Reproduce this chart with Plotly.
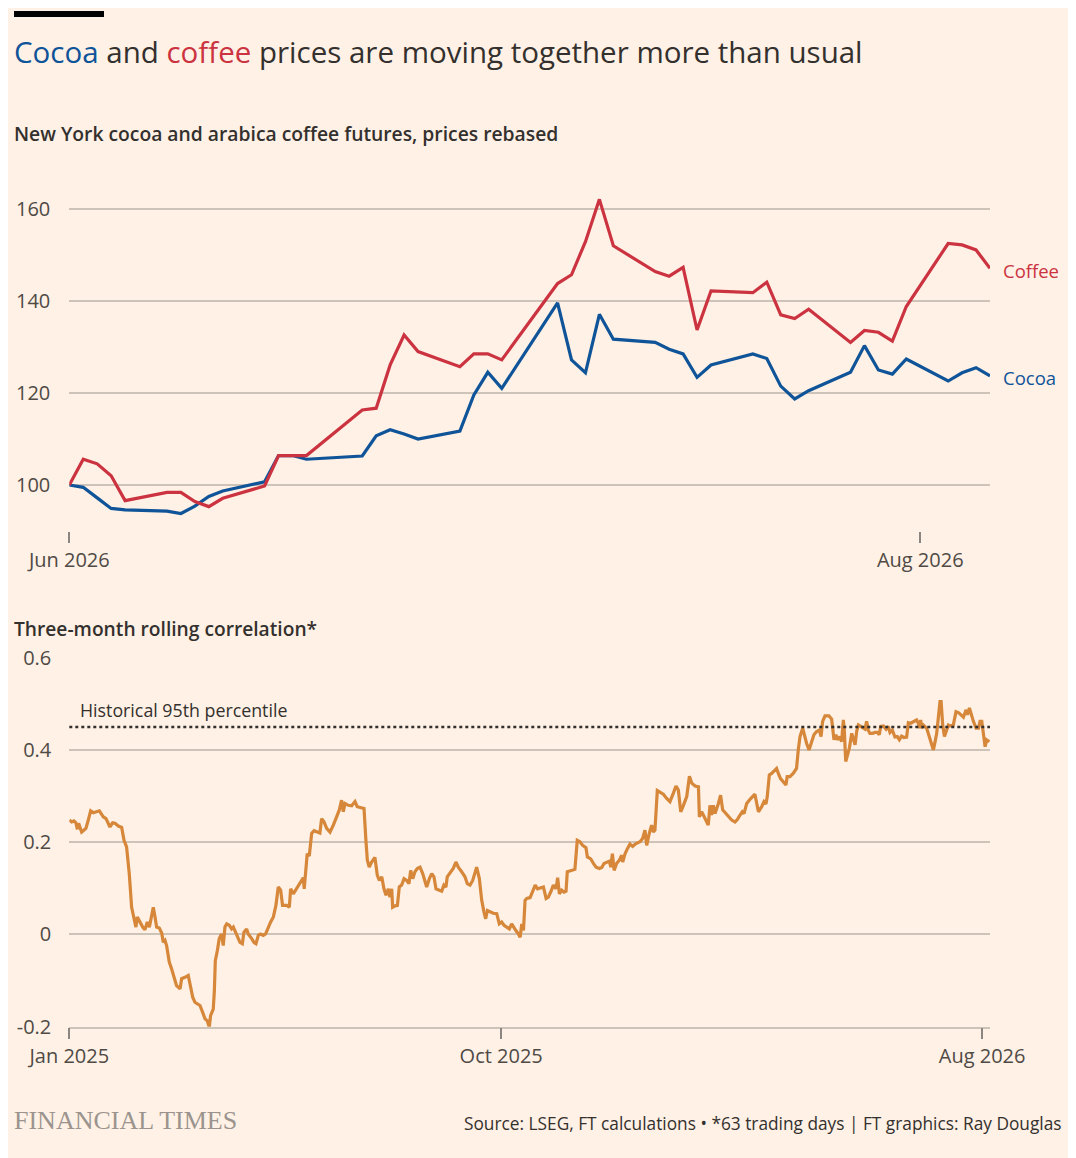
import pandas as pd
import plotly.graph_objects as go

W, H = 1076, 1158
PAGE_OFFSET = 8  # the browser's default body margin shifts the figure by this much

# Top panel: rebased futures prices (trading days, Jun-Aug 2026)
price_dates = [
    "2026-06-01", "2026-06-02", "2026-06-03", "2026-06-04", "2026-06-05",
    "2026-06-08", "2026-06-09", "2026-06-10", "2026-06-11", "2026-06-12",
    "2026-06-15", "2026-06-16", "2026-06-17", "2026-06-18",
    "2026-06-22", "2026-06-23", "2026-06-24", "2026-06-25", "2026-06-26",
    "2026-06-29", "2026-06-30", "2026-07-01", "2026-07-02",
    "2026-07-06", "2026-07-07", "2026-07-08", "2026-07-09", "2026-07-10",
    "2026-07-13", "2026-07-14", "2026-07-15", "2026-07-16", "2026-07-17",
    "2026-07-20", "2026-07-21", "2026-07-22", "2026-07-23", "2026-07-24",
    "2026-07-27", "2026-07-28", "2026-07-29", "2026-07-30", "2026-07-31",
    "2026-08-03", "2026-08-04", "2026-08-05", "2026-08-06",
]
coffee = [
    100.0, 105.6, 104.6, 102.0, 96.6,
    98.4, 98.4, 96.4, 95.3, 97.1,
    99.8, 106.4, 106.4, 106.4,
    116.3, 116.7, 126.1, 132.6, 129.0,
    125.7, 128.5, 128.5, 127.2,
    143.8, 145.7, 152.9, 162.1, 152.0,
    146.4, 145.4, 147.3, 133.7, 142.2,
    141.8, 144.1, 137.0, 136.2, 138.2,
    131.0, 133.6, 133.2, 131.3, 138.8,
    152.5, 152.2, 151.1, 147.1,
]
cocoa = [
    100.0, 99.5, 97.2, 94.9, 94.6,
    94.3, 93.8, 95.4, 97.5, 98.7,
    100.7, 106.4, 106.4, 105.6,
    106.3, 110.7, 112.0, 111.1, 110.0,
    111.7, 119.6, 124.5, 121.0,
    139.6, 127.2, 124.4, 137.1, 131.7,
    131.0, 129.5, 128.5, 123.4, 126.1,
    128.5, 127.5, 121.5, 118.7, 120.5,
    124.5, 130.3, 125.0, 124.1, 127.4,
    122.6, 124.4, 125.5, 123.7,
]

# Bottom panel: three-month rolling correlation, days since 1 Jan 2025
corr_start = "2025-01-01"
corr_days = [
    0, 1.5, 2.9, 4.2, 5.1, 5.9, 6.7, 7.8, 8.8, 10.5,
    12.0, 13.5, 15.2, 17.3, 19.0, 21.5, 23.2, 25.7, 27.4, 28.9,
    31.0, 33.1, 34.6, 36.2, 37.9, 39.4, 40.9, 42.1, 43.0, 44.7,
    46.4, 47.8, 49.3, 50.6, 52.0, 53.1, 54.2, 55.2, 56.9, 58.4,
    59.4, 60.5, 61.5, 63.2, 64.7, 66.2, 67.8, 70.0, 71.0, 73.1,
    75.2, 76.7, 78.0, 79.4, 80.9, 82.6, 84.3, 85.8, 87.2, 88.5,
    89.3, 91.0, 91.7, 92.3, 93.6, 94.8, 96.3, 97.3, 98.4, 99.5,
    101.1, 102.6, 103.7, 105.8, 107.9, 109.4, 110.4, 112.1, 113.1, 115.3,
    116.7, 118.0, 119.5, 120.9, 122.6, 124.1, 125.8, 127.3, 129.0, 130.6,
    132.1, 133.6, 134.8, 137.4, 139.1, 139.9, 141.6, 143.7, 145.8, 147.9,
    148.5, 149.6, 150.4, 151.7, 153.2, 154.7, 156.8, 158.4, 159.5, 161.0,
    162.7, 164.8, 166.9, 169.0, 170.7, 172.1, 173.2, 174.3, 176.4, 178.5,
    180.6, 182.0, 186.3, 187.5, 188.4, 189.6, 191.1, 193.2, 194.7, 196.0,
    197.5, 198.9, 200.2, 201.7, 202.7, 203.8, 204.4, 205.9, 207.4, 208.6,
    210.1, 211.6, 213.3, 214.7, 215.8, 217.1, 218.5, 220.0, 221.7, 223.4,
    224.8, 225.9, 227.6, 229.1, 230.5, 231.8, 233.9, 235.4, 236.8, 238.1,
    238.9, 240.6, 242.7, 244.4, 245.9, 248.0, 250.1, 251.6, 253.3, 255.0,
    256.4, 257.5, 259.2, 260.7, 262.1, 263.2, 264.3, 266.0, 268.0, 270.2,
    271.8, 273.3, 274.8, 276.5, 278.2, 279.6, 280.7, 282.2, 283.9, 285.0,
    286.0, 287.1, 288.1, 289.2, 291.3, 292.4, 293.4, 294.5, 296.0, 297.6,
    299.7, 301.4, 302.8, 304.3, 306.0, 307.7, 308.7, 309.8, 311.2, 312.7,
    314.0, 314.8, 316.5, 318.2, 319.6, 321.1, 322.8, 324.5, 326.6, 327.5,
    329.6, 331.3, 333.0, 335.1, 336.6, 338.0, 339.7, 341.4, 342.3, 343.3,
    344.4, 346.0, 347.7, 349.2, 349.8, 351.3, 352.8, 354.4, 356.1, 358.2,
    360.8, 362.4, 363.9, 365.0, 366.6, 368.1, 369.2, 370.2, 371.7, 373.4,
    375.5, 377.6, 379.7, 381.8, 383.5, 385.0, 386.5, 388.2, 390.3, 392.0,
    393.5, 395.6, 397.7, 398.3, 399.7, 400.8, 402.5, 403.9, 405.0, 406.0,
    407.1, 408.2, 410.3, 411.7, 413.0, 414.5, 416.6, 418.7, 420.8, 422.3,
    424.0, 425.4, 426.5, 428.2, 430.3, 432.0, 433.4, 435.6, 437.7, 439.1,
    440.4, 441.2, 442.5, 444.0, 445.4, 447.1, 448.2, 449.6, 451.3, 453.0,
    453.8, 455.5, 457.6, 459.7, 460.8, 461.9, 463.6, 465.0, 466.1, 467.6,
    469.3, 470.7, 472.4, 474.1, 475.2, 476.2, 477.7, 478.8, 480.2, 481.9,
    483.0, 483.4, 484.6, 485.5, 486.8, 488.2, 489.3, 489.9, 490.8, 491.8,
    493.1, 494.6, 495.6, 496.7, 497.7, 498.8, 500.3, 501.9, 503.0, 504.0,
    505.1, 506.1, 507.8, 509.3, 510.8, 512.0, 512.9, 514.6, 516.3, 517.7,
    518.8, 520.3, 521.9, 523.4, 524.7, 526.1, 527.6, 529.3, 530.4, 531.8,
    533.5, 534.6, 535.6, 536.7, 537.3, 538.2, 538.8, 539.9, 542.0, 543.6,
    545.1, 546.2, 547.3, 548.3, 549.4, 550.4, 551.1, 552.1, 553.2, 554.2,
    555.7, 556.8, 558.8, 560.5, 562.0, 563.7, 565.2, 566.9, 567.7, 569.0,
    570.5, 571.5, 573.2, 574.7, 575.7, 576.8, 577.8, 578.9, 579.9, 581.6,
]
corr_values = [
    0.248, 0.244, 0.246, 0.242, 0.228, 0.241, 0.233, 0.222, 0.225, 0.230,
    0.248, 0.268, 0.264, 0.266, 0.268, 0.255, 0.251, 0.233, 0.242, 0.241,
    0.235, 0.232, 0.204, 0.190, 0.132, 0.059, 0.034, 0.016, 0.038, 0.025,
    0.016, 0.010, 0.027, 0.016, 0.045, 0.059, 0.038, 0.016, 0.014, 0.003,
    -0.017, -0.013, -0.024, -0.060, -0.075, -0.093, -0.111, -0.118, -0.096, -0.093,
    -0.089, -0.114, -0.136, -0.147, -0.151, -0.154, -0.169, -0.183, -0.187, -0.201,
    -0.176, -0.162, -0.122, -0.057, -0.035, -0.009, 0.001, -0.024, 0.016, 0.023,
    0.020, 0.012, 0.016, -0.002, -0.017, -0.020, 0.005, 0.012, 0.001, -0.009,
    -0.017, -0.020, -0.002, 0.001, -0.002, 0.001, 0.017, 0.027, 0.038, 0.063,
    0.103, 0.096, 0.063, 0.063, 0.059, 0.099, 0.088, 0.099, 0.110, 0.123,
    0.099, 0.139, 0.175, 0.170, 0.219, 0.225, 0.222, 0.220, 0.251, 0.244,
    0.230, 0.222, 0.237, 0.255, 0.270, 0.291, 0.266, 0.284, 0.280, 0.279,
    0.288, 0.277, 0.273, 0.204, 0.161, 0.146, 0.157, 0.167, 0.128, 0.117,
    0.125, 0.099, 0.085, 0.099, 0.081, 0.099, 0.059, 0.062, 0.063, 0.103,
    0.107, 0.121, 0.117, 0.110, 0.139, 0.121, 0.136, 0.143, 0.146, 0.132,
    0.114, 0.103, 0.121, 0.132, 0.125, 0.099, 0.096, 0.094, 0.107, 0.103,
    0.125, 0.132, 0.143, 0.157, 0.146, 0.136, 0.125, 0.110, 0.107, 0.117,
    0.132, 0.146, 0.121, 0.074, 0.049, 0.034, 0.052, 0.049, 0.046, 0.045,
    0.023, 0.027, 0.020, 0.016, 0.012, 0.023, 0.016, 0.009, 0.001, -0.006,
    0.023, 0.009, 0.074, 0.078, 0.080, 0.088, 0.096, 0.107, 0.099, 0.101,
    0.103, 0.078, 0.081, 0.092, 0.107, 0.099, 0.123, 0.088, 0.096, 0.092,
    0.094, 0.136, 0.138, 0.139, 0.141, 0.204, 0.201, 0.193, 0.188, 0.168,
    0.164, 0.154, 0.146, 0.143, 0.145, 0.154, 0.157, 0.159, 0.146, 0.175,
    0.139, 0.154, 0.161, 0.172, 0.157, 0.175, 0.186, 0.196, 0.191, 0.197,
    0.201, 0.208, 0.226, 0.193, 0.219, 0.237, 0.222, 0.226, 0.312, 0.309,
    0.304, 0.295, 0.288, 0.306, 0.322, 0.313, 0.266, 0.280, 0.299, 0.343,
    0.328, 0.322, 0.320, 0.255, 0.266, 0.259, 0.248, 0.237, 0.280, 0.259,
    0.280, 0.262, 0.284, 0.302, 0.270, 0.264, 0.255, 0.248, 0.244, 0.249,
    0.259, 0.266, 0.262, 0.284, 0.293, 0.299, 0.304, 0.266, 0.277, 0.288,
    0.283, 0.299, 0.346, 0.349, 0.353, 0.360, 0.349, 0.338, 0.331, 0.324,
    0.342, 0.342, 0.349, 0.360, 0.400, 0.429, 0.447, 0.425, 0.414, 0.400,
    0.418, 0.433, 0.440, 0.443, 0.429, 0.462, 0.474, 0.474, 0.474, 0.467,
    0.440, 0.422, 0.433, 0.422, 0.429, 0.418, 0.465, 0.443, 0.375, 0.386,
    0.404, 0.436, 0.422, 0.411, 0.440, 0.454, 0.451, 0.447, 0.445, 0.462,
    0.443, 0.436, 0.436, 0.438, 0.438, 0.433, 0.451, 0.452, 0.445, 0.451,
    0.438, 0.443, 0.428, 0.429, 0.422, 0.430, 0.427, 0.428, 0.459, 0.458,
    0.462, 0.463, 0.465, 0.458, 0.447, 0.465, 0.447, 0.454, 0.447, 0.429,
    0.414, 0.400, 0.418, 0.436, 0.472, 0.505, 0.505, 0.454, 0.429, 0.440,
    0.454, 0.452, 0.454, 0.483, 0.481, 0.476, 0.471, 0.487, 0.476, 0.491,
    0.472, 0.462, 0.447, 0.447, 0.462, 0.462, 0.436, 0.407, 0.422, 0.418,
]
assert len(corr_days) == len(corr_values)
percentile_95 = 0.45

corr_dates = pd.Timestamp(corr_start) + pd.to_timedelta(corr_days, unit="D")

# colours
BG = "#fff1e5"
TEXT = "#33302e"
MUTED = "#4f4a46"
GRID = "#cdc3b9"
BLUE = "#0f5499"
RED = "#cc3341"
ORANGE = "#d6873a"
FONT = "Open Sans"


# page pixel -> paper coordinates
def px(x):
    return (x - PAGE_OFFSET) / W


def py(y):
    return 1 - (y - PAGE_OFFSET) / H


fig = go.Figure()

fig.add_trace(go.Scatter(x=price_dates, y=cocoa, mode="lines",
                         line=dict(color=BLUE, width=3.2), xaxis="x", yaxis="y"))
fig.add_trace(go.Scatter(x=price_dates, y=coffee, mode="lines",
                         line=dict(color=RED, width=3.2), xaxis="x", yaxis="y"))
fig.add_trace(go.Scatter(x=corr_dates, y=corr_values, mode="lines",
                         line=dict(color=ORANGE, width=3.2), xaxis="x2", yaxis="y2"))

x_dom = [px(69.3), px(990)]
tick_font = dict(family=FONT, size=20, color=MUTED)

fig.update_layout(
    width=W, height=H,
    margin=dict(l=0, r=0, t=0, b=0, autoexpand=False),
    paper_bgcolor=BG, plot_bgcolor=BG,
    font=dict(family=FONT, color=TEXT),
    showlegend=False,
    xaxis=dict(
        domain=x_dom, type="date", range=["2026-06-01", "2026-08-06"],
        tickvals=["2026-06-01", "2026-08-01"], ticktext=["Jun 2026", "Aug 2026"],
        ticks="outside", ticklen=11, tickwidth=1.5, tickcolor="#8a8580",
        showgrid=False, showline=False, zeroline=False, tickfont=tick_font,
        anchor="y", automargin=False,
    ),
    yaxis=dict(
        domain=[py(531), py(186)], range=[90, 165],
        tickvals=[100, 120, 140, 160], showgrid=True, gridcolor=GRID, gridwidth=1.5,
        zeroline=False, showline=False, ticks="", tickfont=tick_font,
        ticklabelstandoff=18, anchor="x", automargin=False,
    ),
    xaxis2=dict(
        domain=x_dom, type="date", range=["2025-01-01", "2026-08-06"],
        tickvals=["2025-01-01", "2025-10-01", "2026-08-01"],
        ticktext=["Jan 2025", "Oct 2025", "Aug 2026"],
        ticks="outside", ticklen=11, tickwidth=1.5, tickcolor="#8a8580",
        showgrid=False, showline=True, linecolor=GRID, linewidth=1.5,
        zeroline=False, tickfont=tick_font, anchor="y2", automargin=False,
    ),
    yaxis2=dict(
        domain=[py(1026.7), py(657.7)], range=[-0.2, 0.6],
        tickvals=[-0.2, 0, 0.2, 0.4, 0.6], ticktext=["-0.2", "0", "0.2", "0.4", "0.6"],
        showgrid=True, gridcolor=GRID, gridwidth=1.5,
        zeroline=False, showline=False, ticks="", tickfont=tick_font,
        ticklabelstandoff=17, anchor="x2", automargin=False,
    ),
)

# 95th percentile reference line
fig.add_shape(type="line", xref="paper", yref="y2",
              x0=x_dom[0], x1=x_dom[1], y0=percentile_95, y1=percentile_95,
              line=dict(color=TEXT, width=2.5, dash="dot"))

# black bar top-left
fig.add_shape(type="rect", xref="paper", yref="paper",
              x0=px(14), x1=px(104), y0=py(17), y1=py(11),
              fillcolor="#000000", line=dict(width=0))


def label(text, x, y, size, color=TEXT, anchor="left", weight=None, family=FONT):
    fig.add_annotation(
        text=text, x=px(x), y=py(y), xref="paper", yref="paper",
        xanchor=anchor, yanchor="middle", showarrow=False,
        font=dict(family=family, size=size, color=color, weight=weight),
    )


label(f'<span style="color:{BLUE}">Cocoa</span> and '
      f'<span style="color:{RED}">coffee</span> prices are moving together more than usual',
      12, 52, 29.5)
label("New York cocoa and arabica coffee futures, prices rebased", 12, 133, 19.3, weight=600)
label("Three-month rolling correlation*", 12, 628, 19.2, weight=600)
label("Coffee", 1001, 270, 18.5, color=RED)
label("Cocoa", 1001, 377, 18.5, color=BLUE)
label("Historical 95th percentile", 78, 710, 17.8)
label("FINANCIAL TIMES", 12, 1120, 26, color="#9b948e", family="Liberation Serif")
label("Source: LSEG, FT calculations \u2022 *63 trading days | FT graphics: Ray Douglas",
      1064, 1123, 17.3, anchor="right")

fig.write_html("out.html")
